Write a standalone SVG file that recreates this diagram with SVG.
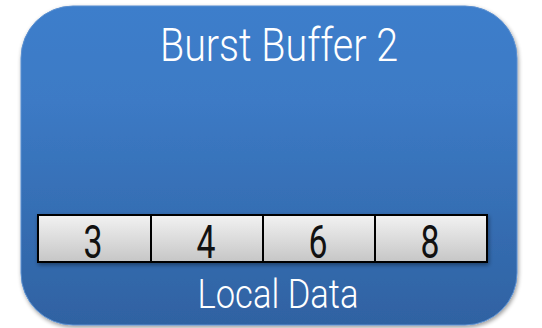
<svg xmlns="http://www.w3.org/2000/svg" width="542" height="328" viewBox="0 0 542 328">
<defs>
<linearGradient id="bg" x1="0" y1="0" x2="0" y2="1">
<stop offset="0" stop-color="#3E7ECB"/>
<stop offset="0.3" stop-color="#3C7AC5"/>
<stop offset="1" stop-color="#2F62A2"/>
</linearGradient>
<linearGradient id="cell" x1="0" y1="0" x2="0" y2="1">
<stop offset="0" stop-color="#F2F2F2"/>
<stop offset="1" stop-color="#C6C6C6"/>
</linearGradient>
<filter id="sh" x="-10%" y="-10%" width="120%" height="130%">
<feGaussianBlur in="SourceAlpha" stdDeviation="2"/>
<feOffset dx="1" dy="2" result="b"/>
<feComponentTransfer><feFuncA type="linear" slope="0.4"/></feComponentTransfer>
<feMerge><feMergeNode/><feMergeNode in="SourceGraphic"/></feMerge>
</filter>
</defs>
<style>
.lbl{font-family:Roboto,"Liberation Sans",sans-serif;font-weight:300;fill:#FFFFFF;text-anchor:middle}
.num{font-family:Roboto,"Liberation Sans",sans-serif;font-weight:400;fill:#111111;text-anchor:middle;font-size:46px}
.c{fill:url(#cell);stroke:#000;stroke-width:2}
</style>
<g id="burst-buffer-2" filter="url(#sh)">
<rect x="21" y="6" width="496" height="319" rx="52" ry="52" fill="url(#bg)" stroke="#5A8FD0" stroke-width="1"/>
</g>
<text class="lbl" x="279" y="61" font-size="47" textLength="238" lengthAdjust="spacingAndGlyphs">Burst Buffer 2</text>
<g id="local-data" filter="url(#sh)">
<rect class="c" x="38" y="215" width="113" height="47"/>
<rect class="c" x="151" y="215" width="112" height="47"/>
<rect class="c" x="263" y="215" width="112" height="47"/>
<rect class="c" x="375" y="215" width="112" height="47"/>
</g>
<text class="num" x="93" y="258" textLength="19" lengthAdjust="spacingAndGlyphs">3</text>
<text class="num" x="206" y="258" textLength="19" lengthAdjust="spacingAndGlyphs">4</text>
<text class="num" x="318" y="258" textLength="19" lengthAdjust="spacingAndGlyphs">6</text>
<text class="num" x="430" y="258" textLength="19" lengthAdjust="spacingAndGlyphs">8</text>
<text class="lbl" x="278" y="308" font-size="41" textLength="161" lengthAdjust="spacingAndGlyphs">Local Data</text>
</svg>
